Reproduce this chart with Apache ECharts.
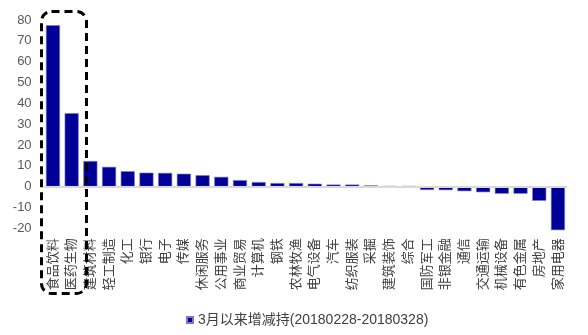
<!DOCTYPE html>
<html><head><meta charset="utf-8">
<script src="https://cdn.jsdelivr.net/npm/echarts@6/dist/echarts.min.js"></script>
<style>html,body{margin:0;padding:0;background:#fff}#c{width:588px;height:335px}</style>
</head><body><div id="c"></div>
<script>
const categories = ['食品饮料','医药生物','建筑材料','轻工制造','化工','银行','电子','传媒','休闲服务','公用事业','商业贸易','计算机','钢铁','农林牧渔','电气设备','汽车','纺织服装','采掘','建筑装饰','综合','国防军工','非银金融','通信','交通运输','机械设备','有色金属','房地产','家用电器'];
const values = [77.5,35.3,12.3,9.5,7.4,6.7,6.6,6.2,5.5,4.7,3.1,2.2,1.7,1.7,1.4,1.0,1.0,0.6,0.3,0.3,-1.6,-1.7,-2.2,-2.7,-3.4,-3.4,-6.8,-20.9];
const seriesName = '3月以来增减持(20180228-20180328)';
const yMin = -20, yMax = 80, yStep = 10;

const FONT = '"Liberation Sans", "Noto Sans CJK SC", sans-serif';
const chart = echarts.init(document.getElementById('c'), null, {renderer:'canvas'});
chart.setOption({
  animation:false,
  textStyle:{fontFamily:FONT},
  grid:{left:43.6, right:20.7, top:20, bottom:106.7},
  legend:{
    data:[seriesName], left:181, top:308, icon:'rect', itemWidth:6, itemHeight:6, itemGap:5,
    textStyle:{fontSize:14, color:'#404040', fontFamily:FONT}
  },
  xAxis:{
    type:'category', data:categories,
    axisLine:{show:false, onZero:false}, axisTick:{show:false},
    axisLabel:{interval:0, margin:10, rotate:90, color:'#404040', fontSize:13,
      fontFamily:FONT, padding:[6,0,0,0]}
  },
  yAxis:{
    type:'value', min:yMin, max:yMax, interval:yStep,
    axisLine:{show:false}, axisTick:{show:false}, splitLine:{show:false},
    axisLabel:{color:'#595959', fontSize:13, margin:12, fontFamily:FONT}
  },
  series:[{
    name:seriesName, type:'bar', data:values, clip:false,
    barCategoryGap:'25%',
    itemStyle:{color:'#000099', borderColor:'#7a7ac4', borderWidth:0.6},
    markLine:{silent:true, symbol:['none','none'], label:{show:false},
      lineStyle:{color:'#d9d9d9', width:2, type:'solid'},
      data:[{yAxis:0}]}
  }],
  graphic:[{
    type:'rect', z:100,
    shape:{x:41.5, y:11.5, width:45, height:282, r:10},
    style:{fill:'none', stroke:'#000', lineWidth:3, lineDash:[8,5]}
  }]
});
</script></body></html>
